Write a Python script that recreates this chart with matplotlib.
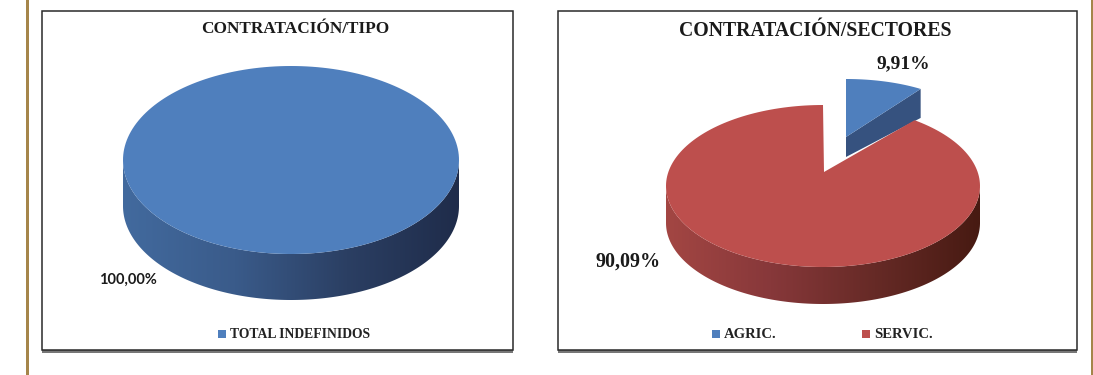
import numpy as np
import matplotlib
matplotlib.use("Agg")
import matplotlib.pyplot as plt
from matplotlib.colors import LinearSegmentedColormap
from matplotlib.patches import Polygon, Rectangle

tipo_labels = ["TOTAL INDEFINIDOS"]
tipo_values = [100.00]
sector_labels = ["AGRIC.", "SERVIC."]
sector_values = [9.91, 90.09]

BLUE = "#4f7fbd"
RED = "#bd4f4d"
TITLE_FONT = "Liberation Serif"


def rim(start, end, cx, cy, rx, ry, dy=0, n=200):
    # angles run clockwise from 12 o'clock, in degrees
    a = np.radians(np.linspace(start, end, n))
    return np.column_stack([cx + rx * np.sin(a), cy - ry * np.cos(a) + dy])


def gradient_side(ax, start, end, cx, cy, rx, ry, depth, colors):
    top = rim(start, end, cx, cy, rx, ry)
    bottom = rim(start, end, cx, cy, rx, ry, depth)
    poly = Polygon(np.vstack([top, bottom[::-1]]), closed=True, fc="none", ec="none")
    ax.add_patch(poly)
    cmap = LinearSegmentedColormap.from_list("side", colors)
    x0, x1 = cx - rx, cx + rx
    im = ax.imshow(np.linspace(0, 1, 256)[None, :], cmap=cmap, aspect="auto", zorder=poly.get_zorder(),
                   extent=(x0, x1, cy + ry + depth + 2, cy - ry - 2))
    im.set_clip_path(poly)


def panel(ax, x0, x1, y0=11, y1=350):
    ax.add_patch(Rectangle((x0, y1), x1 - x0, 2.5, fc="#777777", ec="none"))
    ax.add_patch(Rectangle((x0, y0), x1 - x0, y1 - y0, fc="white", ec="#2a2a2a", lw=1.1))


def legend_item(ax, x, y, label, color, size=10.5):
    ax.add_patch(Rectangle((x, y - 4), 7.5, 8, fc=color, ec="none", zorder=5))
    ax.text(x + 12, y, label, family=TITLE_FONT, weight="bold", fontsize=size,
            va="center", ha="left", color="#222222", zorder=5)


fig = plt.figure(figsize=(10.93, 3.75), dpi=100)
ax = fig.add_axes([0, 0, 1, 1])

# gold page rules
ax.add_patch(Rectangle((25.5, 0), 3, 375, fc="#a5854a", ec="none"))
ax.add_patch(Rectangle((1091, 0), 2, 375, fc="#a5854a", ec="none"))

# left chart
panel(ax, 42, 513)
ax.text(295.5, 29, "CONTRATACIÓN/TIPO", family=TITLE_FONT, weight="bold", fontsize=12.4,
        ha="center", va="center", color="#1a1a1a")
cx, cy, rx, ry, depth = 291, 160, 168, 94, 46
gradient_side(ax, 90, 270, cx, cy, rx, ry, depth, ["#426a9e", "#3a5b8a", "#2b3f63", "#1f2c4a"])
sweep = 360 * tipo_values[0] / sum(tipo_values)
ax.add_patch(Polygon(rim(0, sweep, cx, cy, rx, ry), closed=True, fc=BLUE, ec="none"))
ax.text(128, 280, "{:.2f}%".format(tipo_values[0]).replace(".", ","), family="Lato", weight="bold",
        fontsize=10.5, ha="center", va="center", color="#1a1a1a")
legend_item(ax, 218, 334, tipo_labels[0], BLUE, size=9.8)

# right chart
panel(ax, 558, 1077)
ax.text(815, 31, "CONTRATACIÓN/SECTORES", family=TITLE_FONT, weight="bold", fontsize=14.2,
        ha="center", va="center", color="#1a1a1a")
cut = 360 * sector_values[0] / sum(sector_values)

# pulled-out slice, drawn first so the big one overlaps it
bx, by, brx, bry, bdepth = 846, 132, 128, 53, 29
apex = np.array([846, 137])
tip = rim(cut, cut, bx, by, brx, bry, n=1)[0]
ax.add_patch(Polygon([apex, apex + [0, 20], tip + [0, bdepth], tip], closed=True, fc="#36527f", ec="none"))
ax.add_patch(Polygon(np.vstack([[apex], rim(0, cut, bx, by, brx, bry)]), closed=True, fc=BLUE, ec="none"))

cx, cy, rx, ry, depth = 823, 186, 157, 81, 37
apex = np.array([824, 172])
gradient_side(ax, 90, 270, cx, cy, rx, ry, depth, ["#a34643", "#87383a", "#662a26", "#471a12"])
ax.add_patch(Polygon(np.vstack([[apex], rim(cut, 360, cx, cy, rx, ry)]), closed=True, fc=RED, ec="none"))

ax.text(903, 64, "{:.2f}%".format(sector_values[0]).replace(".", ","), family=TITLE_FONT, weight="bold",
        fontsize=14, ha="center", va="center", color="#1a1a1a")
ax.text(628, 262, "{:.2f}%".format(sector_values[1]).replace(".", ","), family=TITLE_FONT, weight="bold",
        fontsize=14.5, ha="center", va="center", color="#1a1a1a")
legend_item(ax, 712, 334, sector_labels[0], BLUE)
legend_item(ax, 862, 334, sector_labels[1], RED)

ax.set_xlim(0, 1093)
ax.set_ylim(375, 0)
ax.axis("off")
fig.savefig("out.png", dpi=100, facecolor="white")
